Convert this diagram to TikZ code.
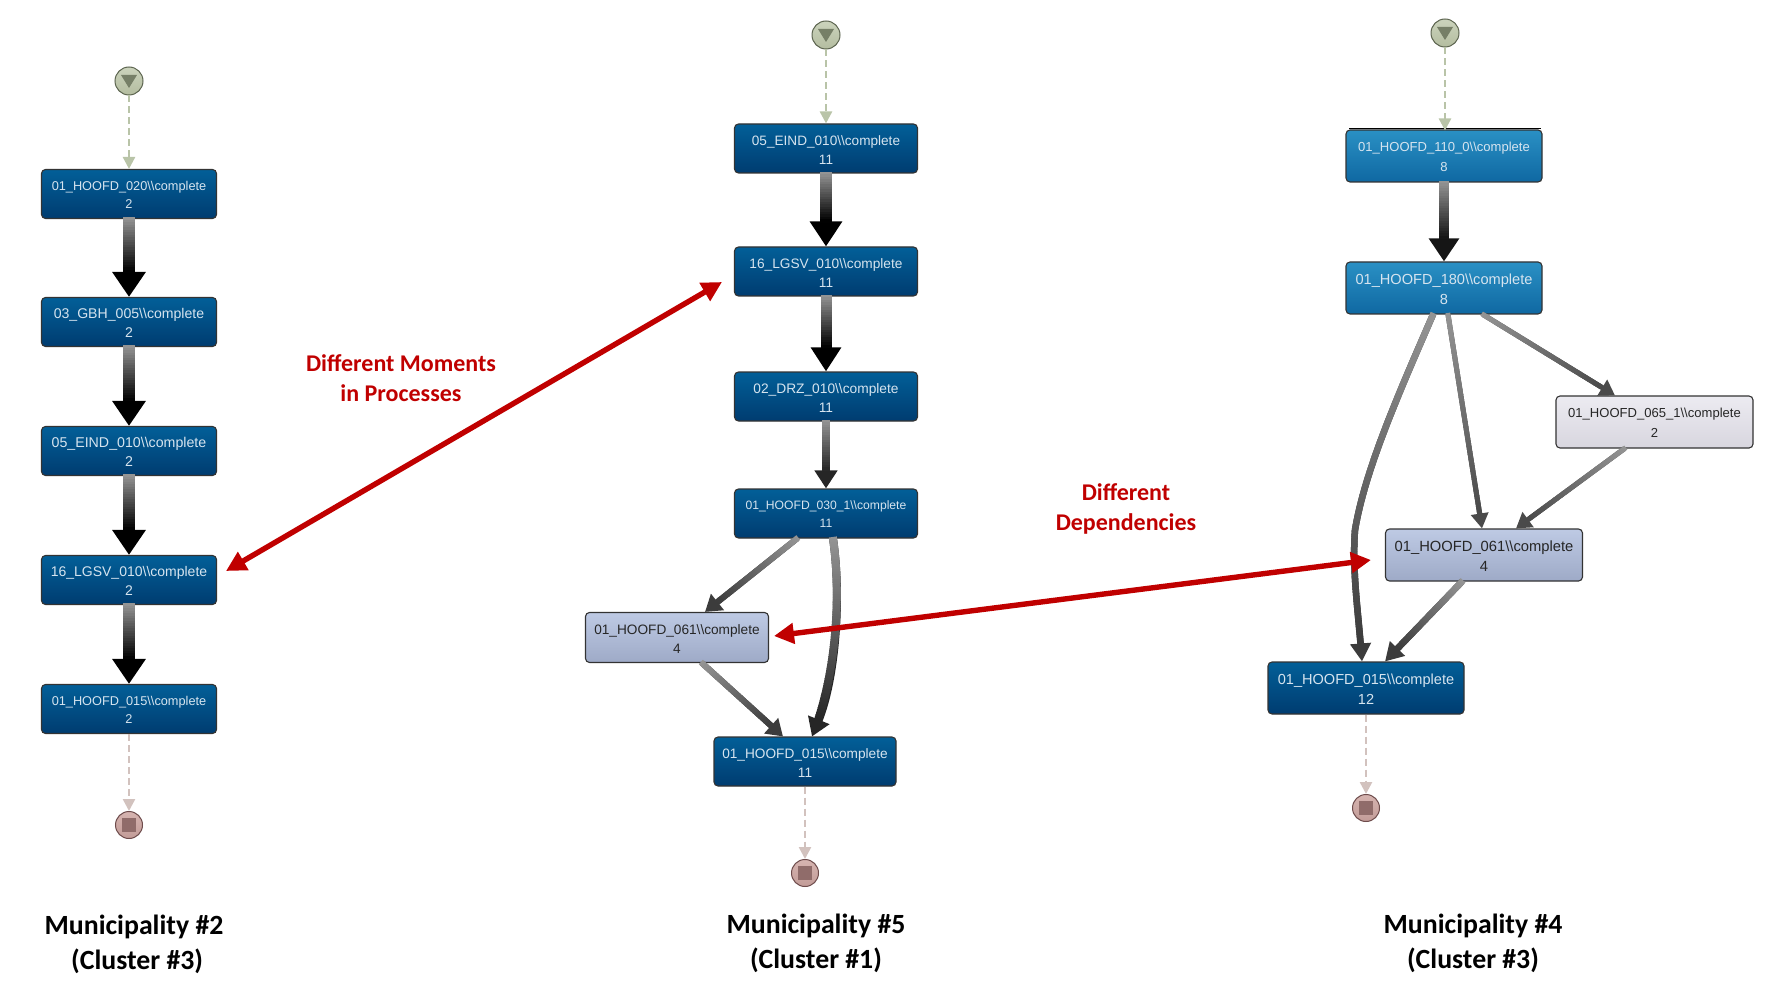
\documentclass[tikz,border=0pt]{standalone}
\usepackage{fontspec}
\setmainfont{Liberation Sans}
\newfontfamily\capfont{Carlito}
\usetikzlibrary{arrows.meta,decorations.markings}
\definecolor{edgegrey}{HTML}{949494}
\definecolor{headk}{HTML}{000000}
\definecolor{headm}{HTML}{151515}
\definecolor{heads}{HTML}{262626}
\definecolor{headt}{HTML}{3C3C3C}
\definecolor{headu}{HTML}{4A4A4A}
\definecolor{redarr}{HTML}{C00000}
\newcommand{\stp}[2]{\rule{0pt}{0.9em}#1\textbackslash\textbackslash complete\\#2}
% width, tip width, tip length, end colour, path
\newcommand{\flow}[5]{
  \draw[line width=#1pt, #4, -{Triangle[length=#3pt,width=#2pt]}] #5;
  \path[postaction={decorate}, decoration={markings,
    mark=between positions 0 and -#3pt step 2.5pt with {
      \pgfmathsetmacro\shd{min(100,100*(\pgfkeysvalueof{/pgf/decoration/mark info/distance from start}/(\pgfdecoratedpathlength-#3)))}
      \draw[line width=#1pt, #4!\shd!edgegrey] (-1.6pt,0pt) -- (1.6pt,0pt);
    }}] #5;
}
\begin{document}
\begin{tikzpicture}[
  x=1pt, y=-1pt,
  task/.style 2 args={draw=black!80, line width=1.1pt, rounded corners=4pt, minimum width=#1pt, minimum height=#2pt, inner sep=0pt, align=center},
  tx/.style 2 args={font=\fontsize{#1}{#2}\selectfont},
  dkb/.style={task={#1}{49}, top color=dkbtop, bottom color=dkbbot, text=txlight},
  dkb/.default=175,
  mdb/.style={task={196}{52}, top color=mdbtop, bottom color=mdbbot, text=txlight},
  lav/.style={task={#1}{50}, top color=lavtop, bottom color=lavbot, text=black!85},
  pal/.style={task={197}{52}, top color=paltop, bottom color=palbot, text=black!85},
  startev/.style={circle, draw=startln, line width=1pt, top color=starttop, bottom color=startbot, minimum size=28pt, inner sep=0pt},
  endev/.style={circle, draw=endln, line width=1pt, top color=endtop, bottom color=endbot, minimum size=27pt, inner sep=0pt},
  dashs/.style={-{Triangle[length=12pt,width=12pt]}, startdash, line width=2.5pt, dash pattern=on 7pt off 4pt},
  dashe/.style={-{Triangle[length=12pt,width=12pt]}, enddash, line width=2.5pt, dash pattern=on 7pt off 4pt},
  muni/.style={font=\capfont\bfseries\fontsize{27.8}{35}\selectfont, align=center, inner sep=0pt},
  rlab/.style={font=\capfont\bfseries\fontsize{24}{29.5}\selectfont, text=redarr, align=center, inner sep=0pt},
  rarr/.style={{Triangle[length=20pt,width=20pt]}-{Triangle[length=20pt,width=20pt]}, redarr, line width=5.4pt},
]
\definecolor{dkbtop}{HTML}{025F98}\definecolor{dkbbot}{HTML}{003C70}
\definecolor{mdbtop}{HTML}{2A90C4}\definecolor{mdbbot}{HTML}{0F68A2}
\definecolor{lavtop}{HTML}{BECAE4}\definecolor{lavbot}{HTML}{9EAAC7}
\definecolor{paltop}{HTML}{ECEBF1}\definecolor{palbot}{HTML}{D8D6DF}
\definecolor{txlight}{HTML}{D6E4EF}
\definecolor{startln}{HTML}{5C644F}\definecolor{starttop}{HTML}{CBD3BC}\definecolor{startbot}{HTML}{B4BDA0}
\definecolor{endln}{HTML}{6E4C4C}\definecolor{endtop}{HTML}{D6B4B0}\definecolor{endbot}{HTML}{C29C98}
\definecolor{startdash}{HTML}{B9C4A8}\definecolor{enddash}{HTML}{D2C2BE}
\useasboundingbox (0,0) rectangle (1778,1008);

% ---------- municipality 2 ----------
\node[dkb, tx={12.75}{18}] (m2a) at (129,194) {\stp{01\_HOOFD\_020}{2}};
\node[dkb, tx={14.1}{19}] (m2b) at (129,322) {\stp{03\_GBH\_005}{2}};
\node[dkb, tx={14.2}{19}] (m2c) at (129,451) {\stp{05\_EIND\_010}{2}};
\node[dkb, tx={14}{19}] (m2d) at (129,580) {\stp{16\_LGSV\_010}{2}};
\node[dkb, tx={12.75}{18}] (m2e) at (129,709) {\stp{01\_HOOFD\_015}{2}};

% ---------- municipality 5 ----------
\node[dkb=183, tx={13.6}{19}] (m5a) at (826,148.5) {\stp{05\_EIND\_010}{11}};
\node[dkb=183, tx={13.7}{19}] (m5b) at (826,271.5) {\stp{16\_LGSV\_010}{11}};
\node[dkb=183, tx={13.75}{19}] (m5c) at (826,396.5) {\stp{02\_DRZ\_010}{11}};
\node[dkb=183, tx={12.15}{18}] (m5d) at (826,513.5) {\stp{01\_HOOFD\_030\_1}{11}};
\node[lav=183, tx={13.65}{19}] (m5f) at (677,637.5) {\stp{01\_HOOFD\_061}{4}};
\node[dkb=182, tx={13.65}{19}] (m5g) at (805,761.5) {\stp{01\_HOOFD\_015}{11}};

% ---------- municipality 4 ----------
\node[mdb, tx={13.05}{20}] (m4a) at (1444,156) {\stp{01\_HOOFD\_110\_0}{8}};
\node[mdb, tx={14.6}{20}] (m4b) at (1444,288) {\stp{01\_HOOFD\_180}{8}};
\node[pal, tx={13.05}{20}] (m4c) at (1654.5,422) {\stp{01\_HOOFD\_065\_1}{2}};
\node[lav=197, minimum height=52pt, tx={14.75}{20}] (m4d) at (1484,555) {\stp{01\_HOOFD\_061}{4}};
\node[dkb=196, minimum height=52pt, tx={14.55}{20}] (m4e) at (1366,688) {\stp{01\_HOOFD\_015}{12}};
\draw[black, line width=1pt] ([xshift=4pt,yshift=1pt]m4a.north west) -- ([xshift=-2pt,yshift=1pt]m4a.north east);

% ---------- start and end events ----------
\foreach \n/\x/\y in {s2/129/81,s5/826/35,s4/1445/33}{
  \node[startev] (\n) at (\x,\y) {};
  \fill[startln!70!startbot] ([xshift=-8pt,yshift=6pt]\n.center) -- ([xshift=8pt,yshift=6pt]\n.center) -- ([yshift=-7pt]\n.center) -- cycle;
}
\foreach \n/\x/\y in {e2/129/825,e5/805/873,e4/1366/808}{
  \node[endev] (\n) at (\x,\y) {};
  \fill[endln!60!endbot] ([xshift=-7pt,yshift=7pt]\n.center) rectangle ([xshift=7pt,yshift=-7pt]\n.center);
}
\draw[dashs] (s2) -- (m2a);
\draw[dashe] (m2e) -- (e2);
\draw[dashs] (s5) -- (m5a);
\draw[dashe] (m5g) -- (e5);
\draw[dashs] (s4) -- ([xshift=1pt,yshift=-1pt]m4a.north);
\draw[dashe] (m4e) -- (e4);

% ---------- flows ----------
\flow{12}{32}{25}{headk}{(m2a.south) -- (m2b.north)}
\flow{12}{32}{25}{headk}{(m2b.south) -- (m2c.north)}
\flow{12}{32}{25}{headk}{(m2c.south) -- (m2d.north)}
\flow{12}{32}{25}{headk}{(m2d.south) -- (m2e.north)}

\flow{12}{31}{25}{headk}{(m5a.south) -- (m5b.north)}
\flow{11}{29}{24}{headk}{(m5b.south) -- (m5c.north)}
\flow{7.5}{22}{18}{heads}{(m5c.south) -- (m5d.north)}
\flow{6}{20}{16}{headt}{([xshift=-29pt]m5d.south) -- ([xshift=28pt]m5f.north)}
\flow{8}{22}{18}{heads}{([xshift=7pt]m5d.south) .. controls (842,600) and (835,680) .. ([xshift=7pt]m5g.north)}
\flow{6}{20}{16}{headt}{([xshift=25pt]m5f.south) -- ([xshift=-22pt]m5g.north)}

\flow{10}{29}{23}{headm}{(m4a.south) -- (m4b.north)}
\flow{6.5}{20}{18}{headt}{([xshift=-11pt]m4b.south) .. controls (1398,395) and (1365,470) .. (1355,530) .. controls (1352,570) and (1358,610) .. ([xshift=-4pt]m4e.north)}
\flow{5}{17}{15}{headu}{([xshift=4pt]m4b.south) -- ([xshift=-2pt]m4d.north)}
\flow{5}{18}{15}{headu}{([xshift=39pt]m4b.south) -- ([xshift=-39.5pt]m4c.north)}
\flow{5}{18}{15}{headu}{([xshift=-30pt]m4c.south) -- ([xshift=32pt]m4d.north)}
\flow{6.5}{20}{18}{headt}{([xshift=-22pt]m4d.south) -- ([xshift=19pt]m4e.north)}

% ---------- red comparison arrows ----------
\coordinate (r1a) at (722,282);
\coordinate (r1b) at (226,571);
\coordinate (r2a) at (1371,560);
\coordinate (r2b) at (774,636);
\draw[rarr] (r1b) -- (r1a);
\draw[rarr] (r2b) -- (r2a);
\node[rlab] (lbmom) at (401,378) {Different Moments\\in Processes};
\node[rlab] (lbdep) at (1126,509) {Different\\Dependencies};

% ---------- captions ----------
\node[muni] (cap2) at (134,944) {Municipality \#2\\\ (Cluster \#3)};
\node[muni] (cap5) at (816,943) {Municipality \#5\\(Cluster \#1)};
\node[muni] (cap4) at (1473,943) {Municipality \#4\\(Cluster \#3)};
\end{tikzpicture}
\end{document}
